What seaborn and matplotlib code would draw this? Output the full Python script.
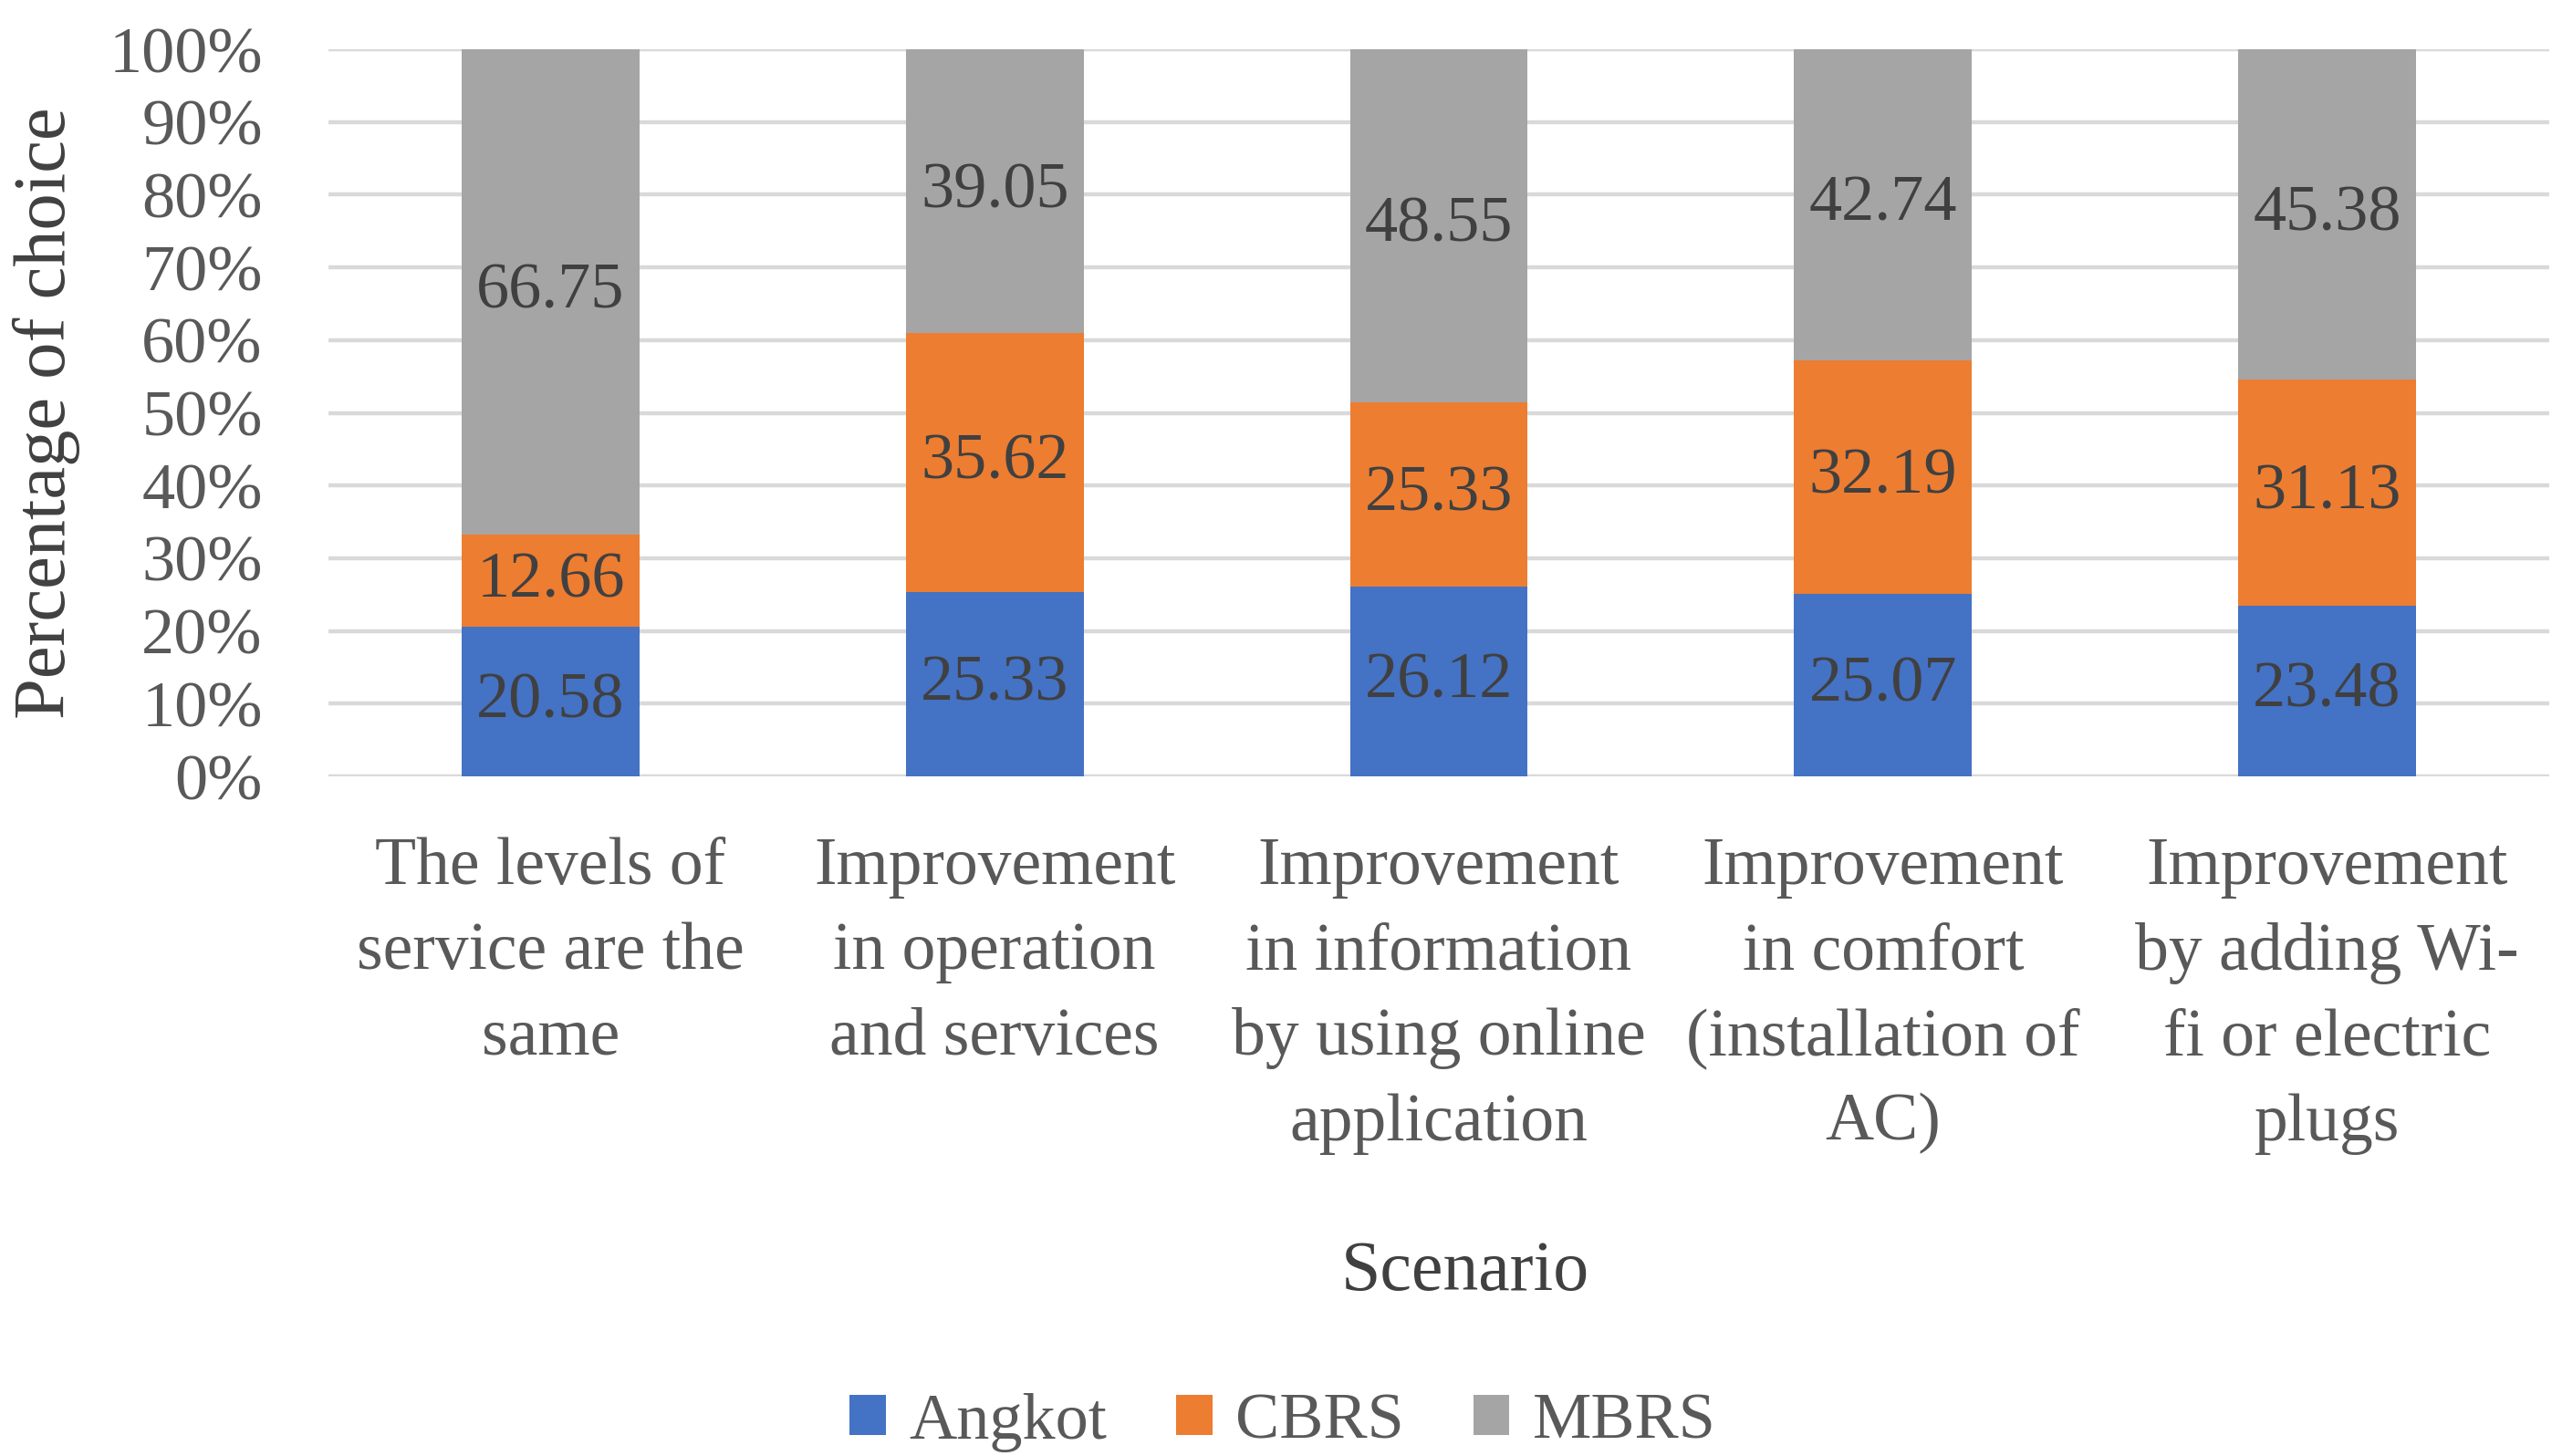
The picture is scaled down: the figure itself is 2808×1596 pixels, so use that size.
import matplotlib
matplotlib.use("Agg")
import matplotlib.pyplot as plt
import seaborn as sns
import numpy as np
import pandas as pd
from matplotlib.patches import Patch

# ---- data ----
scenarios = ["The levels of service are the same",
             "Improvement in operation and services",
             "Improvement in information by using online application",
             "Improvement in comfort (installation of AC)",
             "Improvement by adding Wi-fi or electric plugs"]
tick_labels = ["The levels of\nservice are the\nsame",
               "Improvement\nin operation\nand services",
               "Improvement\nin information\nby using online\napplication",
               "Improvement\nin comfort\n(installation of\nAC)",
               "Improvement\nby adding Wi-\nfi or electric\nplugs"]
angkot = [20.58, 25.33, 26.12, 25.07, 23.48]
cbrs = [12.66, 35.62, 25.33, 32.19, 31.13]
mbrs = [66.75, 39.05, 48.55, 42.74, 45.38]
series_names = ["Angkot", "CBRS", "MBRS"]
colors = ["#4472C4", "#ED7D31", "#A5A5A5"]
yticks = [0, 10, 20, 30, 40, 50, 60, 70, 80, 90, 100]

sns.set_theme(style="white")
plt.rcParams['font.family'] = ['Liberation Serif', 'DejaVu Serif']

df = pd.DataFrame({"scenario": scenarios, "Angkot": angkot, "CBRS": cbrs, "MBRS": mbrs})
df["c1"] = df["Angkot"]
df["c2"] = df["Angkot"] + df["CBRS"]
df["c3"] = df["c2"] + df["MBRS"]

fig = plt.figure(figsize=(28.08, 15.96), dpi=100)
ax = fig.add_axes([360/2808, 1-851/1596, (2794-360)/2808, (851-54)/1596])

for col, c in zip(["c3", "c2", "c1"], colors[::-1]):
    sns.barplot(data=df, x="scenario", y=col, color=c, saturation=1, width=0.4,
                ax=ax, zorder=2, linewidth=0)

ax.set_ylim(0, 100)
ax.set_yticks(yticks)
ax.set_yticklabels([f"{v}%" for v in yticks])
ax.yaxis.grid(True, color="#D9D9D9", linewidth=3.2, zorder=0)
ax.set_axisbelow(True)
for s in ax.spines.values():
    s.set_visible(False)
ax.set_xticks(range(len(scenarios)))
ax.set_xticklabels(tick_labels, linespacing=1.5)
ax.tick_params(axis="y", length=0, pad=52, labelsize=52, labelcolor="#595959")
ax.tick_params(axis="x", length=0, pad=48, labelsize=53, labelcolor="#595959")

# data labels
lows = [np.zeros(len(angkot)), np.array(angkot), np.array(angkot) + np.array(cbrs)]
for vals, low in zip([angkot, cbrs, mbrs], lows):
    for i, v in enumerate(vals):
        ax.text(i, low[i] + v / 2, f"{v:.2f}", ha="center", va="center",
                fontsize=52, color="#404040", zorder=5)

ax.set_xlabel("Scenario", fontsize=56, color="#404040", va="center")
ax.xaxis.set_label_coords(0.512, -0.683)
ax.set_ylabel("Percentage of choice", fontsize=58, color="#404040", va="center")
ax.yaxis.set_label_coords(-0.127, 0.5)

handles = [Patch(facecolor=c, edgecolor="none") for c in colors]
fig.legend(handles, series_names, loc="center", bbox_to_anchor=(0.5007, 1-1559/1596),
           ncol=3, frameon=False, fontsize=52, labelcolor="#595959",
           handlelength=0.55, handleheight=0.55, handletextpad=0.35, columnspacing=1.05)

fig.savefig("out.png", dpi=100)
